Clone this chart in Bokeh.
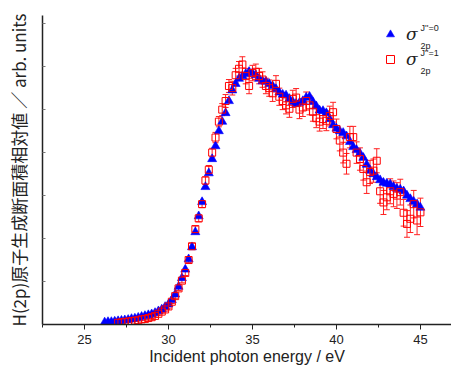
from bokeh.plotting import figure
from bokeh.models import (ColumnDataSource, Whisker, TeeHead, SingleIntervalTicker,
                          FixedTicker, Legend, LegendItem, Label, CustomLabelingPolicy)
from bokeh.embed import file_html
from bokeh.resources import INLINE

# sigma_2p J''=0 (blue triangles)
energy_j0 = [26.2, 26.4, 26.6, 26.8, 27.0, 27.2, 27.4, 27.6, 27.8, 28.0,
             28.2, 28.4, 28.6, 28.8, 29.0, 29.2, 29.4, 29.6, 29.8, 30.0,
             30.2, 30.4, 30.6, 30.8, 31.0, 31.2, 31.4, 31.6, 31.8, 32.0,
             32.2, 32.4, 32.6, 32.8, 33.0, 33.2, 33.4, 33.6, 33.8, 34.0,
             34.2, 34.4, 34.6, 34.8, 35.0, 35.2, 35.4, 35.6, 35.8, 36.0,
             36.2, 36.4, 36.6, 36.8, 37.0, 37.2, 37.4, 37.6, 37.8, 38.0,
             38.2, 38.4, 38.6, 38.8, 39.0, 39.2, 39.4, 39.6, 39.8, 40.0,
             40.2, 40.4, 40.6, 40.8, 41.0, 41.2, 41.4, 41.6, 41.8, 42.0,
             42.2, 42.4, 42.6, 42.8, 43.0, 43.2, 43.4, 43.6, 43.8, 44.0,
             44.2, 44.4, 44.6, 44.8, 45.0]
sigma_j0 = [0.05, 0.06, 0.06, 0.07, 0.08, 0.09, 0.10, 0.11, 0.13, 0.14,
            0.16, 0.18, 0.20, 0.22, 0.24, 0.27, 0.31, 0.35, 0.41, 0.47,
            0.57, 0.70, 0.88, 1.08, 1.28, 1.52, 1.80, 2.15, 2.52, 2.85,
            3.20, 3.52, 3.85, 4.15, 4.50, 4.72, 4.92, 5.20, 5.45, 5.60,
            5.72, 5.78, 5.83, 5.88, 5.85, 5.80, 5.72, 5.66, 5.65, 5.60,
            5.55, 5.48, 5.40, 5.35, 5.33, 5.25, 5.18, 5.14, 5.16, 5.20,
            5.28, 5.30, 5.18, 5.08, 4.98, 4.97, 4.92, 4.78, 4.64, 4.56,
            4.50, 4.46, 4.38, 4.25, 4.13, 4.06, 3.98, 3.88, 3.72, 3.58,
            3.50, 3.43, 3.36, 3.30, 3.28, 3.26, 3.20, 3.16, 3.14, 3.10,
            3.00, 2.92, 2.86, 2.80, 2.72]

# sigma_2p J''=1 (red open squares with error bars)
energy_j1 = [27.0, 27.2, 27.4, 27.6, 27.8, 28.0, 28.2, 28.4, 28.6, 28.8,
             29.0, 29.2, 29.4, 29.6, 29.8, 30.0, 30.2, 30.4, 30.6, 30.8,
             31.0, 31.2, 31.4, 31.6, 31.8, 32.0, 32.2, 32.4, 32.6, 32.8,
             33.0, 33.2, 33.4, 33.6, 33.8, 34.0, 34.2, 34.4, 34.6, 34.8,
             35.0, 35.2, 35.4, 35.6, 35.8, 36.0, 36.2, 36.4, 36.6, 36.8,
             37.0, 37.2, 37.4, 37.6, 37.8, 38.0, 38.2, 38.4, 38.6, 38.8,
             39.0, 39.2, 39.4, 39.6, 39.8, 40.0, 40.2, 40.4, 40.6, 40.8,
             41.0, 41.2, 41.4, 41.6, 41.8, 42.0, 42.2, 42.4, 42.6, 42.8,
             43.0, 43.2, 43.4, 43.6, 43.8, 44.0, 44.2, 44.4, 44.6, 44.8,
             45.0]
sigma_j1 = [0.04, 0.05, 0.06, 0.07, 0.08, 0.09, 0.10, 0.12, 0.13, 0.15,
            0.17, 0.20, 0.25, 0.30, 0.35, 0.42, 0.53, 0.66, 0.84, 1.02,
            1.20, 1.50, 1.82, 2.22, 2.47, 2.80, 3.35, 3.60, 4.00, 4.35,
            4.72, 5.00, 5.20, 5.55, 5.50, 5.80, 5.95, 6.05, 5.78, 5.55,
            5.85, 5.88, 5.78, 5.70, 5.55, 5.50, 5.38, 5.60, 5.30, 5.20,
            5.10, 5.02, 5.25, 5.28, 5.00, 5.05, 5.20, 5.10, 4.95, 4.80,
            4.72, 4.78, 4.74, 4.85, 4.94, 4.55, 4.28, 4.00, 3.74, 4.36,
            4.36, 4.00, 3.85, 3.62, 3.31, 3.55, 3.58, 3.81, 3.10, 2.84,
            2.96, 3.10, 3.04, 3.00, 3.08, 2.60, 2.34, 2.46, 2.80, 2.42,
            2.61]
error_j1 = [0.02, 0.02, 0.02, 0.02, 0.02, 0.02, 0.02, 0.02, 0.03, 0.03,
            0.03, 0.03, 0.03, 0.03, 0.04, 0.04, 0.04, 0.05, 0.05, 0.05,
            0.06, 0.06, 0.07, 0.07, 0.08, 0.08, 0.09, 0.10, 0.10, 0.12,
            0.12, 0.14, 0.15, 0.15, 0.16, 0.16, 0.17, 0.18, 0.18, 0.18,
            0.18, 0.18, 0.18, 0.18, 0.18, 0.19, 0.19, 0.19, 0.20, 0.20,
            0.20, 0.20, 0.20, 0.21, 0.21, 0.21, 0.21, 0.22, 0.22, 0.22,
            0.22, 0.22, 0.23, 0.23, 0.23, 0.23, 0.24, 0.24, 0.24, 0.25,
            0.25, 0.25, 0.26, 0.26, 0.26, 0.27, 0.27, 0.28, 0.28, 0.28,
            0.29, 0.29, 0.30, 0.30, 0.30, 0.31, 0.31, 0.32, 0.32, 0.33,
            0.33]

y_ticks = [1, 2, 3, 4, 5, 6, 7]
x_title = "Incident photon energy / eV"
y_title = "H(2p)原子生成断面積相対値 ／ arb. units"

src0 = ColumnDataSource(dict(x=energy_j0, y=sigma_j0))
src1 = ColumnDataSource(dict(
    x=energy_j1, y=sigma_j1,
    lo=[v - e for v, e in zip(sigma_j1, error_j1)],
    hi=[v + e for v, e in zip(sigma_j1, error_j1)]))

p = figure(width=451, height=369, x_range=(22.5, 46.85), y_range=(0, 7.19),
           output_backend="svg", toolbar_location=None,
           min_border_left=42, min_border_right=0, min_border_top=15,
           min_border_bottom=45)
p.outline_line_color = None
p.grid.visible = False
p.background_fill_color = "white"

# x axis
p.xaxis.ticker = SingleIntervalTicker(interval=5, num_minor_ticks=2)
p.xaxis.major_tick_out = 5
p.xaxis.major_tick_in = 0
p.xaxis.minor_tick_out = 3
p.xaxis.minor_tick_in = 0
p.xaxis.axis_line_width = 1.5
p.xaxis.axis_line_color = "#222222"
p.xaxis.major_tick_line_color = "#222222"
p.xaxis.minor_tick_line_color = "#222222"
p.xaxis.major_label_text_font = "Liberation Sans"
p.xaxis.major_label_text_font_size = "13px"
p.xaxis.major_label_text_color = "#222222"
p.xaxis.major_label_standoff = 5
p.xaxis.axis_label = x_title
p.xaxis.axis_label_text_font = "Liberation Sans"
p.xaxis.axis_label_text_font_size = "16px"
p.xaxis.axis_label_text_font_style = "normal"
p.xaxis.axis_label_text_color = "#222222"
p.xaxis.axis_label_standoff = 1

# y axis (no tick labels)
p.yaxis.ticker = FixedTicker(ticks=y_ticks)
p.yaxis.major_tick_in = 3
p.yaxis.major_tick_out = 0
p.yaxis.minor_tick_line_color = None
p.yaxis.axis_line_width = 1.5
p.yaxis.axis_line_color = "#222222"
p.yaxis.major_tick_line_color = "#777777"
p.yaxis.major_label_policy = CustomLabelingPolicy(code="""
    for (let i = 0; i < indices.size; i++) { indices.unset(i) }
    return indices
""")
p.yaxis.major_label_text_font_size = "0px"
p.yaxis.major_label_standoff = 0
p.yaxis.axis_label = y_title
p.yaxis.axis_label_text_font = "Noto Sans CJK JP"
p.yaxis.axis_label_text_font_size = "17px"
p.yaxis.axis_label_text_font_style = "normal"
p.yaxis.axis_label_text_color = "#222222"
p.yaxis.axis_label_standoff = 12

# data
r0 = p.scatter("x", "y", source=src0, marker="triangle", size=9,
               fill_color="#0000ff", line_color="#0000ff", line_alpha=0.6)
p.add_layout(Whisker(source=src1, base="x", lower="lo", upper="hi",
                     line_color="#ff2020", line_width=1,
                     lower_head=TeeHead(size=6, line_color="#ff2020", line_width=1),
                     upper_head=TeeHead(size=6, line_color="#ff2020", line_width=1)))
r1 = p.scatter("x", "y", source=src1, marker="square", size=7,
               fill_color=None, line_color="#ff0000", line_width=1)

legend = Legend(items=[LegendItem(label="σ", renderers=[r0]),
                       LegendItem(label="σ", renderers=[r1])],
                location=(338, 255), padding=0, margin=0, spacing=5,
                glyph_height=20, glyph_width=20, label_height=20,
                label_width=0, label_standoff=6,
                label_text_font="DejaVu Serif", label_text_font_style="italic",
                label_text_font_size="17px", label_text_color="#222222",
                border_line_alpha=0, background_fill_alpha=0)
p.add_layout(legend)

def add_label(text, x, y, size):
    p.add_layout(Label(x=x, y=y, x_units="screen", y_units="screen", text=text,
                       text_font="Liberation Sans", text_font_size=size,
                       text_color="#222222", text_baseline="alphabetic",
                       text_align="left"))

add_label("J''=0", 378, 297, "9px")
add_label("2p", 378, 279, "9px")
add_label("J''=1", 378, 272, "9px")
add_label("2p", 378, 254, "9px")

open("out.html", "w").write(file_html(p, INLINE))
